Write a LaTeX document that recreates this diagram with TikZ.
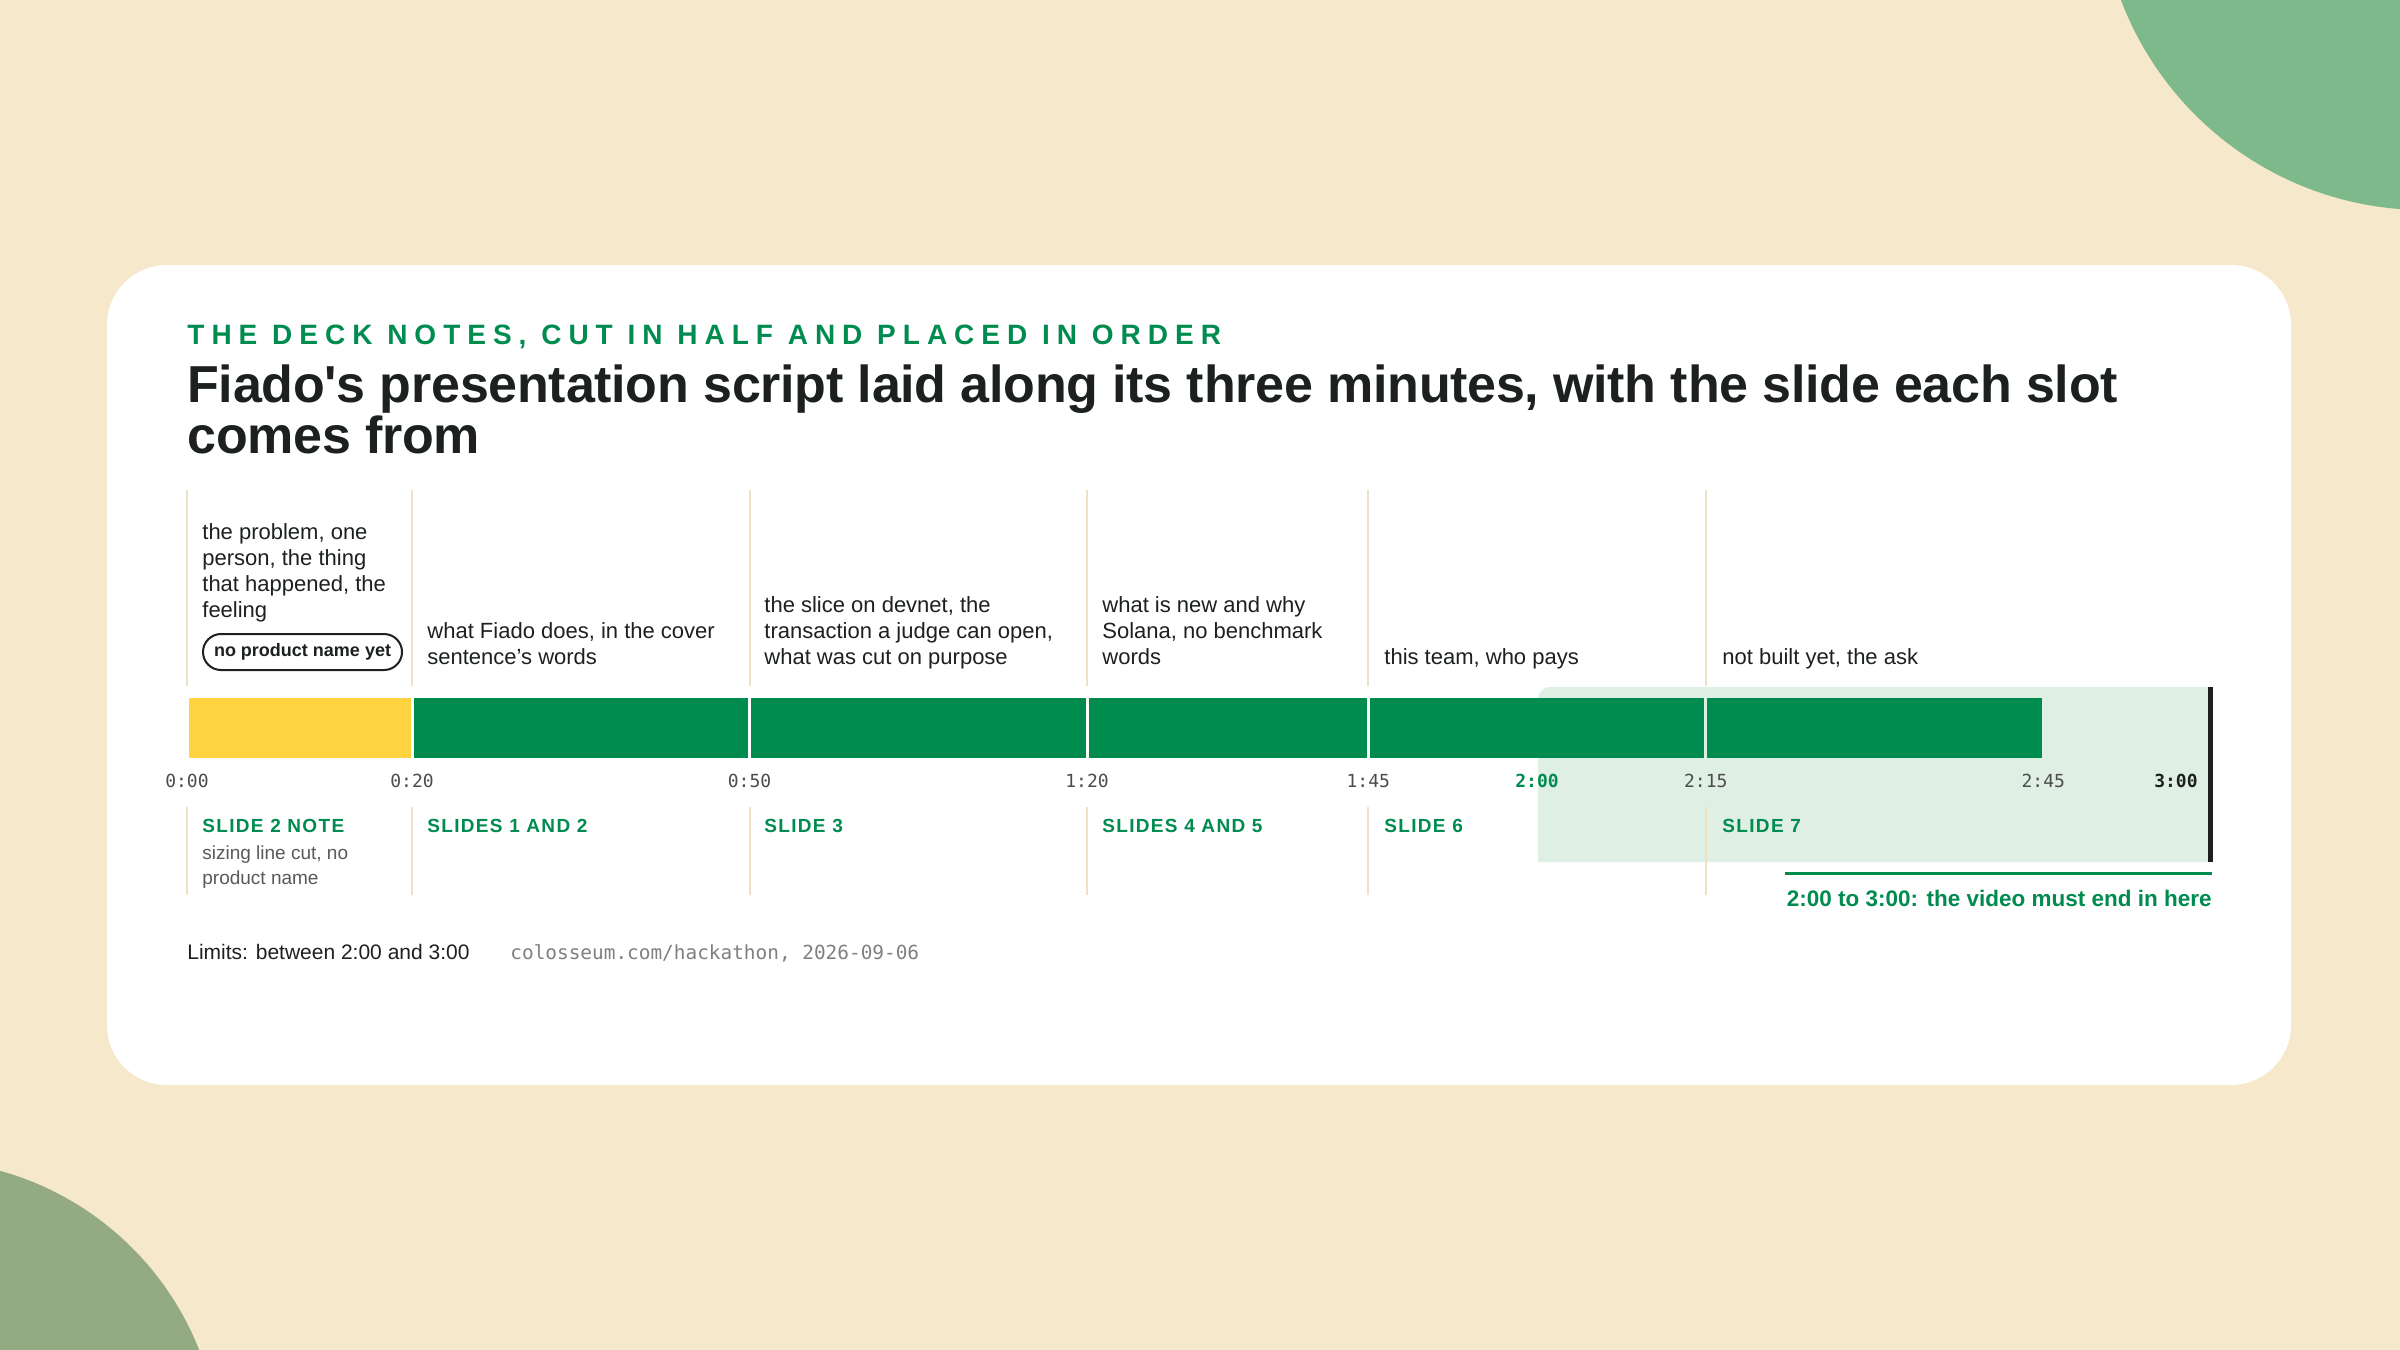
\documentclass[tikz,border=0pt]{standalone}
\usepackage{fontspec}
\setmainfont{Liberation Sans}
\setmonofont{DejaVu Sans Mono}
\newfontfamily\kickerfont[LetterSpace=25]{Liberation Sans}
\newfontfamily\titlefont[LetterSpace=-0.5]{Liberation Sans}
\newfontfamily\slidefont[LetterSpace=7]{Liberation Sans}
\usepackage{tikz}
\definecolor{cream}{HTML}{F6E8CB}
\definecolor{leafgreen}{HTML}{7DB98A}
\definecolor{sagegreen}{HTML}{93AA82}
\definecolor{deckgreen}{HTML}{008C4F}
\definecolor{windowgreen}{HTML}{DFEFE4}
\definecolor{inkdark}{HTML}{1C211E}
\definecolor{notegold}{HTML}{FFD23F}
\definecolor{guidebeige}{HTML}{EFE2C4}

\begin{document}
\begin{tikzpicture}[x = 0.5pt, y = -0.5pt,
		guide/.style = {guidebeige, line width = 1pt},
		note/.style = {anchor = base west, align = left, inner sep = 0pt, text = inkdark, font = \fontsize{11}{13}\selectfont},
		slidelbl/.style = {anchor = west, inner sep = 0pt, text = deckgreen, font = \slidefont\bfseries\fontsize{9.5}{11}\selectfont},
		ticklbl/.style = {inner sep = 0pt, text = black!70, font = \ttfamily\fontsize{9}{11}\selectfont}]
			\useasboundingbox (0, 0) rectangle (2400, 1350);
			\clip (0, 0) rectangle (2400, 1350);
			\fill[cream] (0, 0) rectangle (2400, 1350);
			\fill[leafgreen] (2425, -115) circle[radius = 325];
			\fill[sagegreen] (-80, 1460) circle[radius = 300];
			\fill[white, rounded corners = 30pt] (107, 265) rectangle (2291, 1085);
			\node[anchor = base west, inner sep = 0pt, text = deckgreen, font = \kickerfont\bfseries\fontsize{14}{16}\selectfont] (kicker) at (187, 344) {THE DECK NOTES, CUT IN HALF AND PLACED IN ORDER};
			\node[anchor = base west, align = left, inner sep = 0pt, text = inkdark, font = \titlefont\bfseries\fontsize{26}{24}\selectfont] (title) at (187, 453) {Fiado's presentation script laid along its three minutes, with the slide each slot\\comes from};
			\fill[windowgreen] (1538, 862) [rounded corners = 6pt] -- (1538, 687) [sharp corners] -- (2212, 687) -- (2212, 862) -- cycle;
			\foreach \a/\b/\c in {0/20/notegold, 20/50/deckgreen, 50/80/deckgreen, 80/105/deckgreen, 105/135/deckgreen, 135/165/deckgreen}
				\fill[\c] ({187 + 11.25*\a + 1.5}, 698) rectangle ({187 + 11.25*\b - 1.5}, 758);
			\draw[inkdark, line width = 2.5pt] (2210, 687) -- (2210, 862);
			\foreach \t in {0, 20, 50, 80, 105, 135} {
				\draw[guide] ({187 + 11.25*\t}, 490) -- ({187 + 11.25*\t}, 686);
				\draw[guide] ({187 + 11.25*\t}, 807) -- ({187 + 11.25*\t}, 895);
			}
			\foreach \t/\lbl in {0/0:00, 20/0:20, 50/0:50, 80/1:20, 105/1:45, 135/2:15, 165/2:45}
				\node[ticklbl] (tick\t) at ({187 + 11.25*\t}, 781) {\lbl};
			\node[ticklbl, text = deckgreen, font = \ttfamily\bfseries\fontsize{9}{11}\selectfont] (tick120) at (1537, 781) {2:00};
			\node[ticklbl, anchor = east, text = inkdark, font = \ttfamily\bfseries\fontsize{9}{11}\selectfont] (tick180) at (2198, 781) {3:00};
			\node[note] (note1) at (202, 617) {the problem, one\\person, the thing\\that happened, the\\feeling};
			\node[anchor = west, draw = inkdark, line width = 1pt, rounded corners = 9pt, minimum height = 18pt, inner xsep = 5.5pt, inner ysep = 0pt, text = inkdark, font = \bfseries\fontsize{9}{11}\selectfont] (pill) at (202, 652) {no product name yet};
			\node[note] (note2) at (427, 664) {what Fiado does, in the cover\\sentence's words};
			\node[note] (note3) at (764, 664) {the slice on devnet, the\\transaction a judge can open,\\what was cut on purpose};
			\node[note] (note4) at (1102, 664) {what is new and why\\Solana, no benchmark\\words};
			\node[note] (note5) at (1384, 664) {this team, who pays};
			\node[note] (note6) at (1722, 664) {not built yet, the ask};
			\node[slidelbl] (slide1) at (202, 826) {SLIDE 2 NOTE};
			\node[anchor = north west, align = left, inner sep = 0pt, text = black!65, font = \fontsize{9.5}{12.5}\selectfont] (cutnote) at (202, 845) {sizing line cut, no\\product name};
			\node[slidelbl] (slide2) at (427, 826) {SLIDES 1 AND 2};
			\node[slidelbl] (slide3) at (764, 826) {SLIDE 3};
			\node[slidelbl] (slide4) at (1102, 826) {SLIDES 4 AND 5};
			\node[slidelbl] (slide5) at (1384, 826) {SLIDE 6};
			\node[slidelbl] (slide6) at (1722, 826) {SLIDE 7};
			\draw[deckgreen, line width = 1.5pt] (1785, 873) -- (2212, 873);
			\node[anchor = base east, inner sep = 0pt, text = deckgreen, font = \bfseries\fontsize{11.25}{13}\selectfont] (window) at (2212, 906) {2:00 to 3:00: the video must end in here};
			\node[anchor = base west, inner sep = 0pt, text = inkdark, font = \fontsize{10.5}{13}\selectfont] (limits) at (187, 959) {Limits: between 2:00 and 3:00};
			\node[anchor = base west, inner sep = 0pt, text = black!50, font = \ttfamily\fontsize{9.7}{12}\selectfont] (source) at (510, 959) {colosseum.com/hackathon, 2026-09-06};
		\end{tikzpicture}
\end{document}
